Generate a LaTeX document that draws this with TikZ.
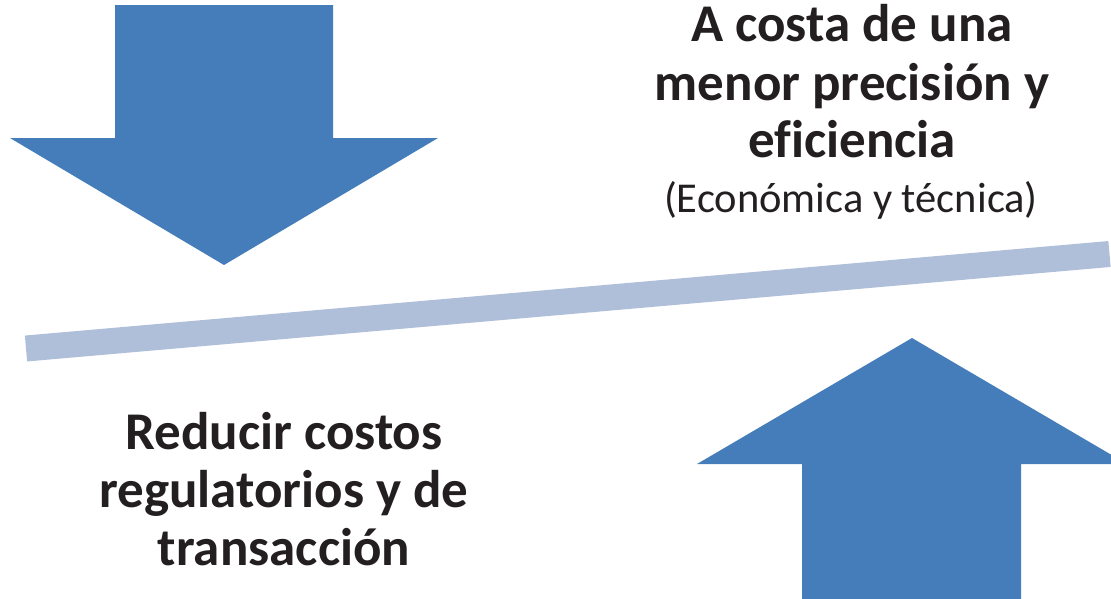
\documentclass[tikz,border=0pt]{standalone}
\usepackage{fontspec}
\setmainfont[Ligatures=NoCommon]{Carlito}
\definecolor{arrowblue}{HTML}{447DBA}
\definecolor{barblue}{HTML}{AFBED9}
\definecolor{ink}{HTML}{231F20}
\begin{document}
\begin{tikzpicture}[x=1pt,y=-1pt,
  bigtxt/.style={anchor=base,inner sep=0pt,text=ink,font=\fontsize{53}{60}\selectfont\bfseries},
  smalltxt/.style={anchor=base,inner sep=0pt,text=ink,font=\fontsize{42.5}{48}\selectfont},
  arrowshape/.style={fill=arrowblue,draw=none}]
\useasboundingbox (0,0) rectangle (1111,598);
\clip (0,0) rectangle (1111,598);
% bar
\coordinate (bl) at (26,348.5);
\coordinate (br) at (1109.5,254);
\draw[barblue,line width=26pt] (bl) -- (br);
% down arrow
\fill[arrowshape] (115,5) -- (333,5) -- (333,138) -- (438,138) -- (224,265) -- (10,138) -- (115,138) -- cycle;
% up arrow
\fill[arrowshape] (912,338) -- (1127,464) -- (1021,464) -- (1021,600) -- (802,600) -- (802,464) -- (697,464) -- cycle;
% texts
\node[bigtxt] (a1) at (852,41) {A costa de una};
\node[bigtxt] (a2) at (852,100) {menor precisión y};
\node[bigtxt] (a3) at (852,157) {eficiencia};
\node[smalltxt] (a4) at (851,212) {(Económica y técnica)};
\node[bigtxt] (b1) at (284,449) {Reducir costos};
\node[bigtxt] (b2) at (284,507) {regulatorios y de};
\node[bigtxt] (b3) at (284,565) {transacción};
\end{tikzpicture}
\end{document}
